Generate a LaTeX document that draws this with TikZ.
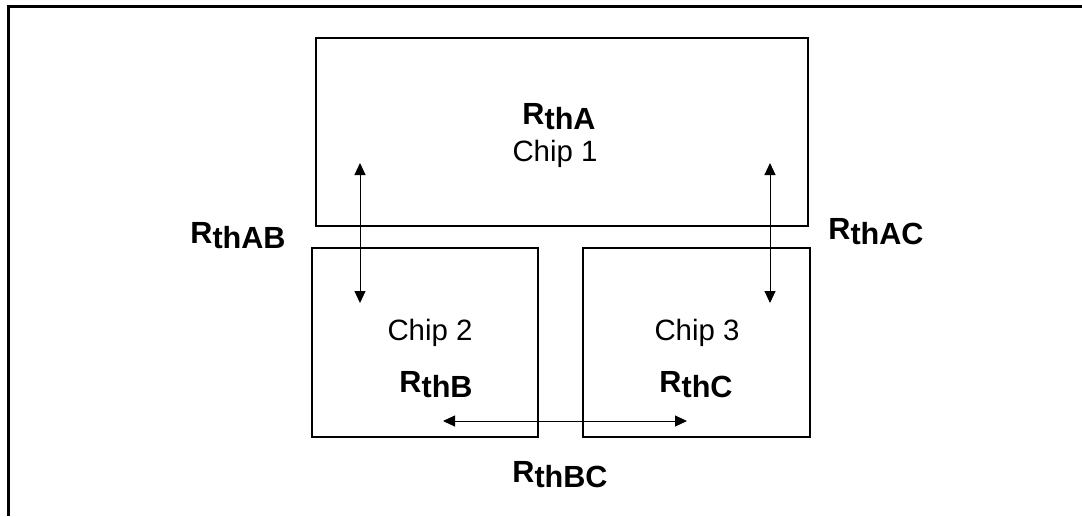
\documentclass[tikz,border=0pt]{standalone}
\usepackage{fontspec}
\setmainfont{Liberation Sans}
\usepackage{tikz}
\usetikzlibrary{arrows.meta}
\usetikzlibrary{positioning}
\newcommand{\rth}[1]{\textbf{R\raisebox{-2.6pt}{th#1}}}

\begin{document}
\begin{tikzpicture}[
  x=0.5pt, y=-0.5pt,
  dep/.style ={
    {Triangle[length=6pt,width=5.5pt]}-{Triangle[length=6pt,width=5.5pt]},
    line width=0.5pt
  },
  chip/.style 2 args={
    rectangle,
    draw=black,
    line width=1.3pt,
    minimum width=#1,
    minimum height=#2,
    inner sep=0pt},
  lbl/.style={
    font=\fontsize{14.7}{17}\selectfont,
    anchor=base,
    inner sep=0pt},
  res/.style={
    font=\fontsize{15.3}{17}\selectfont,
    anchor=base,
    inner sep=0pt},
]

  \useasboundingbox (0,0) rectangle (1082,516);

  % outer frame
  \draw[line width=1.5pt] (8,516) -- (8,6) -- (1082,6);

  \def\rowtop{132}%
  \def\rowbot{342.5}%

        \node[chip={246pt}{94pt}] (chip_1) 
            at (562, \rowtop) {};    
        \node[res] (r_a) at (559, 124) {\rth{A}};
        \node[lbl] (t_1) at (555, 161) {Chip 1};

        \node[chip={113pt}{94.5pt}] (chip_2) 
            at (425, \rowbot) {};    
        \node[lbl] (t_2) at (430, 340) {Chip 2};
        \node[res] (r_b) at (436, 392) {\rth{B}};

        \node[chip={113.5pt}{94.5pt}] (chip_3) 
            at (696.5, \rowbot) {};    
        \node[lbl] (t_3) at (697, 340) {Chip 3};
        \node[res] (r_c) at (696, 392) {\rth{C}};

        \node[res] (r_ab) at (238, 243) {\rth{AB}};
        \node[res] (r_ac) at (876, 239) {\rth{AC}};
        \node[res] (r_bc) at (560, 482) {\rth{BC}};

        \coordinate (ab_1) at (360, 163);
        \coordinate (ab_2) at (360, 303);
        \coordinate (ac_1) at (770, 163);
        \coordinate (ac_2) at (770, 303);
        \coordinate (bc_1) at (443, 421);
        \coordinate (bc_2) at (687, 421);

        \draw[dep] (ab_1) to (ab_2);
        \draw[dep] (ac_1) to (ac_2);
        \draw[dep] (bc_1) to (bc_2);

\end{tikzpicture}
\end{document}
